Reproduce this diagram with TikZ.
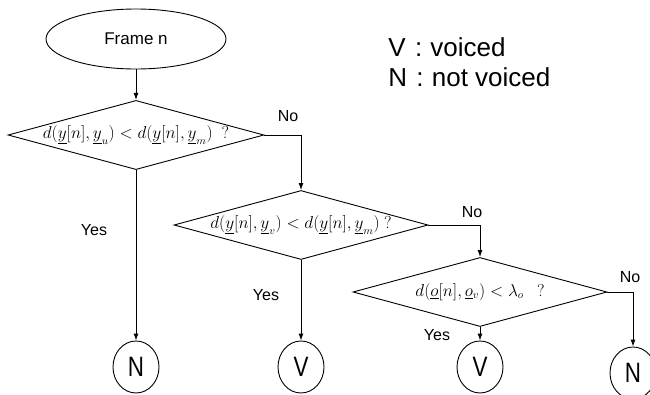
\documentclass[tikz,border=0pt]{standalone}
\usepackage{fontspec}
\usepackage{graphicx}
\setmainfont{Liberation Sans}
\usetikzlibrary{shapes.geometric,arrows.meta}
\begin{document}
\begin{tikzpicture}[x=1pt,y=-1pt,
  line width=0.9pt,
  arr/.style={-{Latex[length=7pt,width=5pt]}},
  dec/.style={diamond,draw,minimum width=254pt,minimum height=69pt,inner sep=0pt,shape aspect=3.7,font=\fontsize{16}{16}\selectfont},
  term/.style={ellipse,draw,minimum width=46pt,minimum height=52pt,inner sep=0pt},
  lab/.style={font=\fontsize{16}{16}\selectfont,inner sep=0pt},
  legend/.style={font=\fontsize{26}{26}\selectfont,anchor=west,inner sep=0pt},
  ]
\useasboundingbox (0,0) rectangle (650,394);
\node[ellipse,draw,minimum width=180pt,minimum height=60pt,inner sep=0pt,font=\fontsize{17}{17}\selectfont] (start) at (136,39) {Frame n};

\node[legend] (lv) at (388,47) {V\hspace{2pt} : \hspace{1pt}voiced};
\node[legend] (ln) at (388,77) {N\hspace{2pt} : \hspace{1pt}not voiced};

\node[dec] (d1) at (136,135) {$d(\underline{y}[n],\underline{y}_{u})<d(\underline{y}[n],\underline{y}_{m})\ \ ?$};
\node[dec] (d2) at (301,225) {$d(\underline{y}[n],\underline{y}_{v})<d(\underline{y}[n],\underline{y}_{m})\ ?$};
\node[dec] (d3) at (480,292) {$d(\underline{o}[n],\underline{o}_{v})<\lambda_{o}\ \ \ ?$};

\node[term] (n1) at (136,367) {\scalebox{0.8}[1]{\fontsize{28}{28}\selectfont N}};
\node[term] (v2) at (301,367) {\scalebox{0.8}[1]{\fontsize{28}{28}\selectfont V}};
\node[term] (v3) at (480,367) {\scalebox{0.8}[1]{\fontsize{28}{28}\selectfont V}};
\node[term] (n4) at (633,373) {\scalebox{0.8}[1]{\fontsize{28}{28}\selectfont N}};

\draw[arr] (start.south) -- (d1.north);
\draw[arr] (d1.east) -| (d2.north);
\draw[arr] (d2.east) -| (d3.north);
\draw[arr] (d3.east) -| (n4.north);
\draw[arr] (d1.south) -- (n1.north);
\draw[arr] (d2.south) -- (v2.north);
\draw[arr] (d3.south) -- (v3.north);

\node[lab] (no1) at (288,116) {No};
\node[lab] (no2) at (472,212) {No};
\node[lab] (no3) at (630,277) {No};
\node[lab] (yes1) at (94,230) {Yes};
\node[lab] (yes2) at (266,295) {Yes};
\node[lab] (yes3) at (437,335) {Yes};
\end{tikzpicture}
\end{document}
